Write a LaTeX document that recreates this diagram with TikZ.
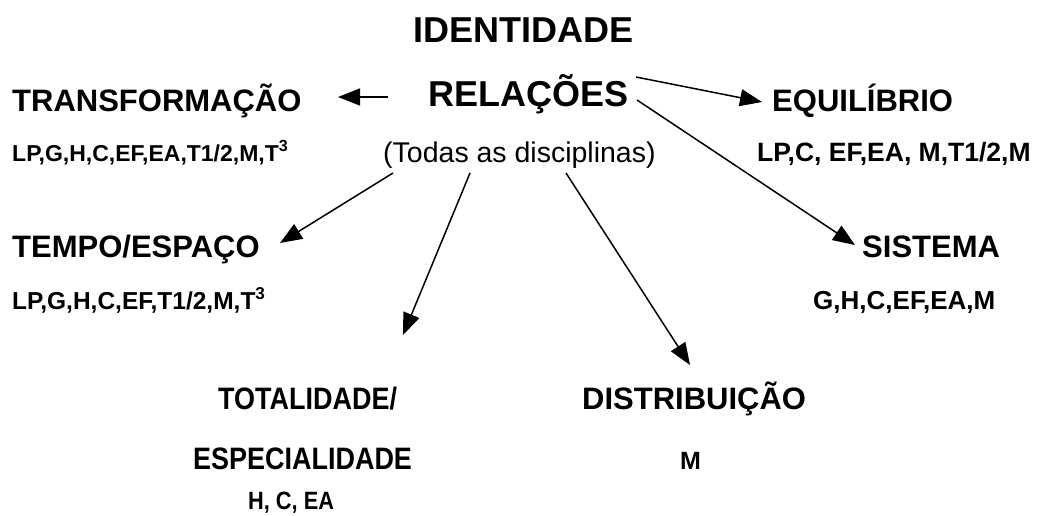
\documentclass[tikz,border=0pt]{standalone}
\usepackage{fontspec}
\setmainfont{Liberation Sans}
\newfontfamily\narrowfont[FakeStretch=0.87]{Liberation Sans}
\usetikzlibrary{arrows.meta}
\tikzset{
  lbl/.style={anchor=base west,inner sep=0pt},
  bigtitle/.style={lbl,font=\bfseries\fontsize{36}{40}\selectfont},
  title/.style={lbl,font=\bfseries\fontsize{31}{36}\selectfont},
  narrowtitle/.style={lbl,font=\narrowfont\bfseries\fontsize{31}{36}\selectfont},
  sub/.style={lbl,font=\bfseries\fontsize{#1}{28}\selectfont},
  sub/.default=23,
  narrowsub/.style={lbl,font=\narrowfont\bfseries\fontsize{25}{29}\selectfont},
  link/.style={line width=1.5pt,-{Triangle[length=22pt,width=17pt]}}
}
\begin{document}
\begin{tikzpicture}[x=1pt,y=-1pt]
\useasboundingbox (0,0) rectangle (1039,515);
% centre
\node[bigtitle] (ident) at (413,42) {IDENTIDADE};
\node[bigtitle] (rel) at (428,106) {RELAÇÕES};
\node[lbl,font=\fontsize{28.5}{32}\selectfont] (todas) at (383,162) {(Todas as disciplinas)};
% left and right
\node[title] (transf) at (12,111) {TRANSFORMAÇÃO};
\node[sub] (transfl) at (12,161) {LP,G,H,C,EF,EA,T1/2,M,T\textsuperscript{3}};
\node[title] (equil) at (772,111) {EQUILÍBRIO};
\node[sub=26.5] (equill) at (757,161) {LP,C, EF,EA, M,T1/2,M};
\node[title] (tempo) at (12,257) {TEMPO/ESPAÇO};
\node[sub=24.5] (tempol) at (12,309) {LP,G,H,C,EF,T1/2,M,T\textsuperscript{3}};
\node[title] (sist) at (862,257) {SISTEMA};
\node[sub=26] (sistl) at (813,309) {G,H,C,EF,EA,M};
% bottom
\node[narrowtitle] (total) at (218,409) {TOTALIDADE/};
\node[narrowtitle] (espec) at (193,469) {ESPECIALIDADE};
\node[narrowsub] (especl) at (248,509) {H, C, EA};
\node[title] (distr) at (582,409) {DISTRIBUIÇÃO};
\node[sub=25] (distrl) at (680,469) {M};
% arrow ends
\coordinate (a1) at (388,97);
\coordinate (b1) at (338,97);
\coordinate (a2) at (636,77);
\coordinate (b2) at (762,102);
\coordinate (a3) at (637,100);
\coordinate (b3) at (855,245);
\coordinate (a4) at (393,173);
\coordinate (b4) at (280,243);
\coordinate (a5) at (470,173);
\coordinate (b5) at (403,335);
\coordinate (a6) at (566,173);
\coordinate (b6) at (690,365);
\draw[link] (a1) -- (b1);
\draw[link] (a2) -- (b2);
\draw[link] (a3) -- (b3);
\draw[link] (a4) -- (b4);
\draw[link] (a5) -- (b5);
\draw[link] (a6) -- (b6);
\end{tikzpicture}
\end{document}
